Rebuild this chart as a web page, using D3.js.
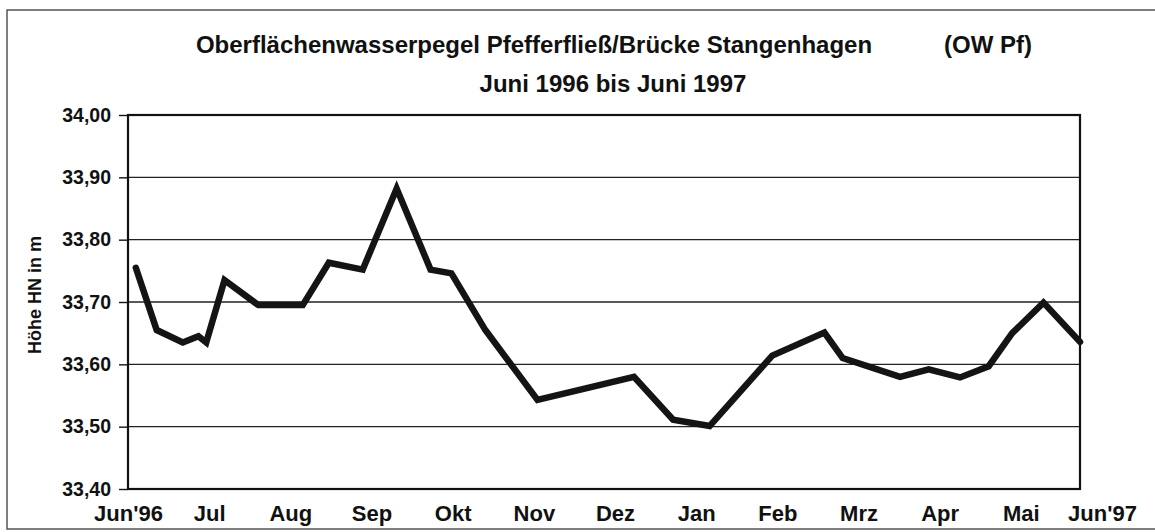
<!DOCTYPE html>
<html>
<head>
<meta charset="utf-8">
<script src="https://cdn.jsdelivr.net/npm/d3@7"></script>
<style>
  body { margin: 0; background: #fff; }
  svg { display: block; font-family: 'Liberation Sans', Arial, sans-serif; font-weight: bold; }
</style>
</head>
<body>
<div id="chart"></div>
<script>
// Messwerte (gelesen aus der Vorlage)
var dates = [
  '1996-06-04', '1996-06-12', '1996-06-22', '1996-06-28', '1996-07-01', '1996-07-08',
  '1996-07-21', '1996-08-07', '1996-08-17', '1996-08-30', '1996-09-12', '1996-09-25',
  '1996-10-03', '1996-10-16', '1996-11-05', '1996-12-12', '1996-12-27', '1997-01-10',
  '1997-02-03', '1997-02-23', '1997-03-02', '1997-03-24', '1997-04-04', '1997-04-16',
  '1997-04-27', '1997-05-06', '1997-05-18', '1997-06-01'
];
var levels = [
  33.755, 33.655, 33.635, 33.645, 33.635, 33.735,
  33.695, 33.695, 33.763, 33.752, 33.882, 33.752,
  33.746, 33.655, 33.543, 33.580, 33.511, 33.501,
  33.614, 33.651, 33.610, 33.580, 33.592, 33.579,
  33.597, 33.650, 33.699, 33.636
];
var monthLabels = ["Jun'96", 'Jul', 'Aug', 'Sep', 'Okt', 'Nov', 'Dez', 'Jan', 'Feb', 'Mrz', 'Apr', 'Mai', "Jun'97"];
var yTicks = [33.4, 33.5, 33.6, 33.7, 33.8, 33.9, 34.0];
var titleMain = 'Oberflächenwasserpegel Pfefferfließ/Brücke Stangenhagen';
var titleTag = '(OW Pf)';
var subtitle = 'Juni 1996 bis Juni 1997';
var yTitle = 'Höhe HN in m';

var W = 1155, H = 532;
// note: "top" is taken by window.top, so plot edges get a prefix
var plotL = 128, plotR = 1080, plotT = 115, plotB = 489;

var parse = d3.timeParse('%Y-%m-%d');
var data = dates.map(function (d, i) { return { date: parse(d), v: levels[i] }; });

var de = d3.formatLocale({ decimal: ',', thousands: '.', grouping: [3], currency: ['', ' €'] });

var x = d3.scaleTime()
  .domain([parse('1996-06-01'), parse('1997-06-01')])
  .range([plotL, plotR]);

var y = d3.scaleLinear()
  .domain([33.4, 34.0])
  .range([plotB, plotT]);

// Monatsbeschriftung: gleichmaessig verteilte Kategorien wie im Original
var xLab = d3.scalePoint()
  .domain(monthLabels)
  .range([128, 1102]);

var svg = d3.select('#chart').append('svg')
  .attr('width', W)
  .attr('height', H);

// aeusserer Rahmen
svg.append('rect')
  .attr('x', 7).attr('y', 10)
  .attr('width', 1200).attr('height', 519)
  .attr('fill', 'none')
  .attr('stroke', '#555')
  .attr('stroke-width', 1.5);

// Titel
var t = svg.append('text')
  .attr('x', 614).attr('y', 53)
  .attr('text-anchor', 'middle')
  .attr('font-size', 24)
  .attr('fill', '#111');
t.append('tspan').text(titleMain);
t.append('tspan').attr('dx', 72).text(titleTag);

svg.append('text')
  .attr('x', 613).attr('y', 92)
  .attr('text-anchor', 'middle')
  .attr('font-size', 24)
  .attr('fill', '#111')
  .text(subtitle);

// Gitternetz
svg.append('g')
  .selectAll('line')
  .data(yTicks)
  .enter().append('line')
  .attr('x1', plotL).attr('x2', plotR)
  .attr('y1', function (d) { return y(d); })
  .attr('y2', function (d) { return y(d); })
  .attr('stroke', '#222')
  .attr('stroke-width', 1.4);

// y-Achse
var yAxis = d3.axisLeft(y)
  .tickValues(yTicks)
  .tickSize(9)
  .tickPadding(8)
  .tickFormat(de.format('.2f'));

var gy = svg.append('g')
  .attr('transform', 'translate(' + plotL + ',0)')
  .call(yAxis);
gy.select('.domain').remove();
gy.selectAll('.tick line').attr('stroke', '#111').attr('stroke-width', 1.4);
gy.selectAll('.tick text')
  .attr('font-size', 19.5)
  .attr('font-family', "'Liberation Sans', Arial, sans-serif")
  .attr('font-weight', 'bold')
  .attr('fill', '#111');

// x-Achse (nur Beschriftung)
var xAxis = d3.axisBottom(xLab)
  .tickSize(0)
  .tickPadding(16);

var gx = svg.append('g')
  .attr('transform', 'translate(0,' + plotB + ')')
  .call(xAxis);
gx.select('.domain').remove();
gx.selectAll('.tick text')
  .attr('font-size', 22)
  .attr('font-family', "'Liberation Sans', Arial, sans-serif")
  .attr('font-weight', 'bold')
  .attr('fill', '#111');

// Plotrahmen
svg.append('rect')
  .attr('x', plotL).attr('y', plotT)
  .attr('width', plotR - plotL).attr('height', plotB - plotT)
  .attr('fill', 'none')
  .attr('stroke', '#111')
  .attr('stroke-width', 2.2);

// Achsentitel
svg.append('text')
  .attr('transform', 'translate(41,295) rotate(-90)')
  .attr('text-anchor', 'middle')
  .attr('font-size', 18)
  .attr('fill', '#111')
  .text(yTitle);

// Ganglinie
var line = d3.line()
  .x(function (d) { return x(d.date); })
  .y(function (d) { return y(d.v); });

svg.append('path')
  .datum(data)
  .attr('d', line)
  .attr('fill', 'none')
  .attr('stroke', '#141414')
  .attr('stroke-width', 6.5)
  .attr('stroke-linejoin', 'miter')
  .attr('stroke-miterlimit', 3)
  .attr('stroke-linecap', 'round');
</script>
</body>
</html>
